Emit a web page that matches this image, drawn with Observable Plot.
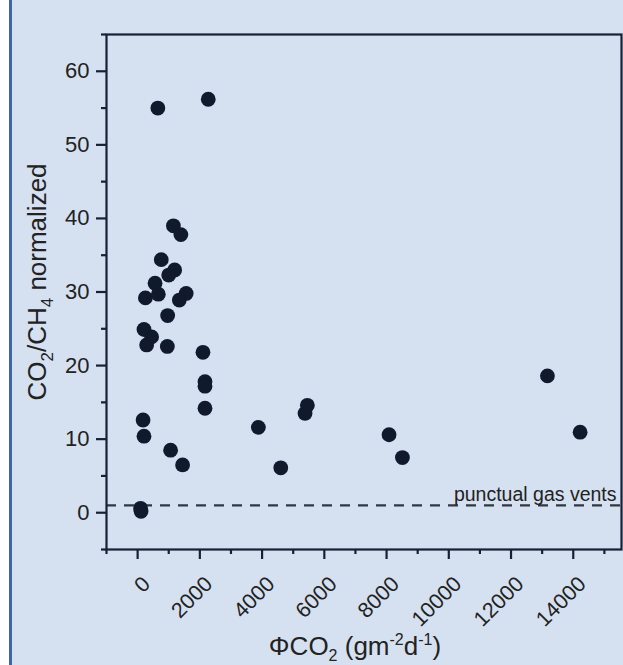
<!DOCTYPE html>
<html>
<head>
<meta charset="utf-8">
<script src="https://cdn.jsdelivr.net/npm/d3@7"></script>
<script src="https://cdn.jsdelivr.net/npm/@observablehq/plot@0.6"></script>
<style>
  html, body { margin: 0; padding: 0; }
  body {
    width: 623px; height: 665px; overflow: hidden;
    background: linear-gradient(to right, #ffffff 0 9px, #4064a6 9px 12px, #d5e0f1 12px);
    font-family: "Liberation Sans", Arial, sans-serif;
  }
  svg { display: block; }
</style>
</head>
<body>
<div id="chart"></div>
<script>
// ΦCO2 flux (g m-2 d-1)
const fluxCO2 = [650, 2270, 1150, 1390, 760, 1190, 1000, 560, 250, 665, 1560, 1340, 965, 205, 450, 290, 955, 2100, 2165, 2165, 2165, 175, 205, 1060, 1445, 3880, 4600, 5380, 5455, 95, 110, 13170, 14220, 8080, 8510];
// CO2/CH4 normalized
const ratioCO2CH4 = [55.0, 56.2, 39.0, 37.8, 34.4, 33.0, 32.3, 31.2, 29.2, 29.7, 29.8, 28.9, 26.8, 24.9, 23.9, 22.8, 22.6, 21.8, 17.8, 17.2, 14.2, 12.6, 10.4, 8.5, 6.5, 11.6, 6.1, 13.5, 14.6, 0.6, 0.2, 18.6, 10.95, 10.6, 7.5];

const xMajorTicks = [0, 2000, 4000, 6000, 8000, 10000, 12000, 14000];
const xMinorTicks = [-1000, 1000, 3000, 5000, 7000, 9000, 11000, 13000, 15000];
const yMajorTicks = [0, 10, 20, 30, 40, 50, 60];
const yMinorTicks = [-5, 5, 15, 25, 35, 45, 55, 65];
const xDomain = [-1000, 15550];
const yDomain = [-5, 65];

const refLineValue = 1;
const refLineLabel = "punctual gas vents";

const points = fluxCO2.map((x, i) => ({x, y: ratioCO2CH4[i]}));
const refData = [{y: refLineValue, label: refLineLabel}];

const axisColor = "#182133";
const textColor = "#222222";

const plot = Plot.plot({
  width: 623,
  height: 665,
  marginLeft: 106,
  marginRight: 2,
  marginTop: 34,
  marginBottom: 116,
  style: {background: "transparent", fontFamily: "'Liberation Sans', Arial, sans-serif", overflow: "visible"},
  x: {domain: xDomain, label: null},
  y: {domain: yDomain, label: null},
  marks: [
    Plot.ruleY(refData, {y: "y", stroke: "#303742", strokeWidth: 2.2, strokeDasharray: "10,8"}),
    Plot.text(refData, {y: "y", text: "label", frameAnchor: "right", textAnchor: "end", lineAnchor: "bottom", dx: -5, dy: -4, fontSize: 19.5, fill: textColor}),
    Plot.dot(points, {x: "x", y: "y", r: 7.4, fill: "#111a2c", stroke: "none"}),
    Plot.axisY({ticks: yMajorTicks, tickSize: 10, tickPadding: 7, stroke: axisColor, strokeWidth: 2.2, fill: textColor, fontSize: 22, label: null}),
    Plot.axisY({ticks: yMinorTicks, tickSize: 5, stroke: axisColor, strokeWidth: 2.2, tickFormat: () => "", label: null}),
    Plot.axisX({ticks: xMajorTicks, tickSize: 10, stroke: axisColor, strokeWidth: 2.2, tickFormat: () => "", label: null}),
    Plot.axisX({ticks: xMinorTicks, tickSize: 5, stroke: axisColor, strokeWidth: 2.2, tickFormat: () => "", label: null}),
    Plot.text(xMajorTicks, {x: d => d, text: d => String(d), frameAnchor: "bottom", rotate: -45, textAnchor: "end", lineAnchor: "middle", dx: 9, dy: 31, fontSize: 21.5, fill: textColor}),
    Plot.frame({stroke: axisColor, strokeWidth: 2.2})
  ]
});

document.getElementById("chart").appendChild(plot);

// Axis titles with sub/superscripts
const svg = d3.select(plot);
const xt = svg.append("text")
  .attr("x", 355).attr("y", 655)
  .attr("text-anchor", "middle")
  .attr("font-size", 26)
  .attr("fill", textColor)
  .attr("font-family", "'Liberation Sans', Arial, sans-serif");
xt.append("tspan").text("ΦCO");
xt.append("tspan").attr("font-size", 16).attr("dy", 6).text("2");
xt.append("tspan").attr("dy", -6).text(" (gm");
xt.append("tspan").attr("font-size", 16).attr("dy", -10).text("-2");
xt.append("tspan").attr("dy", 10).text("d");
xt.append("tspan").attr("font-size", 16).attr("dy", -10).text("-1");
xt.append("tspan").attr("dy", 10).text(")");

const yt = svg.append("text")
  .attr("transform", "translate(46,282) rotate(-90)")
  .attr("text-anchor", "middle")
  .attr("font-size", 26)
  .attr("fill", textColor)
  .attr("font-family", "'Liberation Sans', Arial, sans-serif");
yt.append("tspan").text("CO");
yt.append("tspan").attr("font-size", 17).attr("dy", 7).text("2");
yt.append("tspan").attr("dy", -7).text("/CH");
yt.append("tspan").attr("font-size", 17).attr("dy", 7).text("4");
yt.append("tspan").attr("dy", -7).text(" normalized");
</script>
</body>
</html>
